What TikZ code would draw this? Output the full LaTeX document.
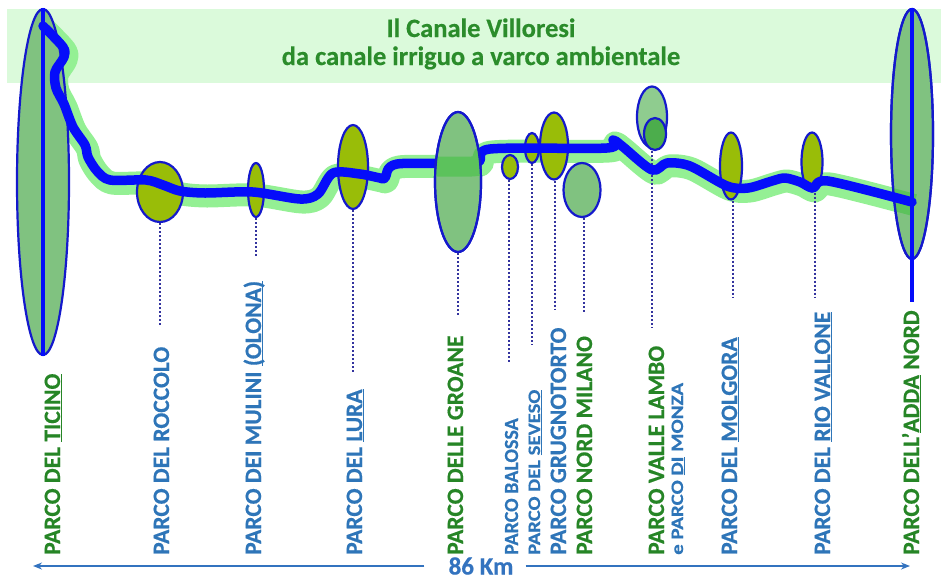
\documentclass[tikz,border=0pt]{standalone}
\usepackage{fontspec}
\setmainfont{Carlito}[BoldFeatures={FakeBold=0.5}]
\usetikzlibrary{shapes.geometric,arrows.meta}
\definecolor{band}{rgb}{0.86,0.98,0.86}
\definecolor{titlegreen}{rgb}{0.17,0.55,0.17}
\definecolor{halo}{rgb}{0.58,0.94,0.58}
\definecolor{halodark}{rgb}{0.36,0.76,0.36}
\definecolor{canal}{rgb}{0.02,0.05,0.98}
\definecolor{rim}{rgb}{0.08,0.1,0.8}
\definecolor{olive}{rgb}{0.6,0.74,0.03}
\definecolor{midgreen}{rgb}{0.5,0.76,0.5}
\definecolor{lightmid}{rgb}{0.56,0.8,0.56}
\definecolor{deepgreen}{rgb}{0.3,0.68,0.3}
\definecolor{lblue}{rgb}{0.18,0.46,0.72}
\definecolor{lgreen}{rgb}{0.15,0.52,0.15}
\definecolor{dotblue}{rgb}{0.2,0.2,0.62}
\definecolor{axisblue}{rgb}{0.2,0.45,0.75}
\newcommand\lnk[1]{\setbox0\hbox{#1}\rlap{\rule[-2.4pt]{\wd0}{1.4pt}}\box0\relax}
\tikzset{
  park/.style={ellipse, draw=rim, line width=2.2pt, inner sep=0pt},
  lab/.style={rotate=90, anchor=base west, inner sep=0pt, font=\bfseries\fontsize{23.5}{23.5}\selectfont},
  labsmall/.style={lab, font=\bfseries\fontsize{20}{20}\selectfont},
  labtiny/.style={lab, font=\bfseries\fontsize{17.5}{17.5}\selectfont},
  conn/.style={dotblue, line width=2pt, dash pattern=on 2pt off 2pt},
  spine/.style={canal, line width=4pt},
  titlefont/.style={font=\bfseries\fontsize{26.5}{26.5}\selectfont, text=titlegreen, anchor=base, inner sep=0pt}
}
\begin{document}
\begin{tikzpicture}[x=1pt,y=-1pt]
\useasboundingbox (0,0) rectangle (941,579);
% title band
\fill[band] (7,9) rectangle (941,83);
\node[titlefont] (t1) at (481,37) {Il Canale Villoresi};
\node[titlefont] (t2) at (481,65) {da canale irriguo a varco ambientale};
% canal path
\path[save path=\canal] plot[smooth, tension=0.5] coordinates {(43,26) (63,47) (64,57) (55,72) (56,88) (64,104) (73,127) (85,145) (88,157) (97,171) (110,180) (146,180) (163,185) (180,191) (205,193) (253,192) (300,199) (318,194) (333,173) (360,174) (380,178) (385,178) (397,164) (475,163) (490,149) (607,148) (613,140) (622,146) (652,170) (667,163) (690,166) (727,186) (748,188) (772,181) (785,178) (800,182) (813,188) (828,181) (912,202)};
\draw[use path=\canal, halo, line width=23pt, line join=round, line cap=round, transform canvas={shift={(2,3)}}];
% parks
\node[park, fill=midgreen, minimum width=52pt, minimum height=346pt] (tic) at (43,182) {};
\node[park, fill=olive, minimum width=46pt, minimum height=60pt] (roc) at (160,192) {};
\node[park, fill=olive, minimum width=16pt, minimum height=54pt] (mul) at (256,190) {};
\node[park, fill=olive, minimum width=30pt, minimum height=84pt] (lur) at (353,167) {};
\node[park, fill=olive, minimum width=16pt, minimum height=24pt] (bal) at (510,167) {};
\node[park, fill=olive, minimum width=14pt, minimum height=30pt] (sev) at (532,148) {};
\node[park, fill=olive, minimum width=28pt, minimum height=67pt] (gru) at (554,146) {};
\node[park, fill=midgreen, minimum width=37pt, minimum height=54pt] (nmi) at (582,190) {};
\node[park, fill=lightmid, minimum width=30pt, minimum height=61pt] (vl) at (652,117) {};
\node[park, fill=deepgreen, minimum width=22pt, minimum height=32pt] (vlb) at (655,134) {};
\node[park, fill=olive, minimum width=22pt, minimum height=67pt] (mol) at (731,166) {};
\node[park, fill=olive, minimum width=21pt, minimum height=59pt] (rio) at (812,162) {};
\node[park, fill=midgreen, minimum width=42pt, minimum height=250pt] (add) at (912,134) {};
\begin{scope}
\clip (912,134) ellipse [x radius=20pt, y radius=124pt];
\draw[use path=\canal, halodark, line width=22pt, line join=round, transform canvas={shift={(2,3)}}];
\end{scope}
\draw[rim, line width=2.2pt] (add.center) ellipse [x radius=21pt, y radius=125pt];
% dotted connectors
\coordinate (droc) at (160,325);
\coordinate (dmul) at (256,258);
\coordinate (dlur) at (353,372);
\coordinate (dgro) at (458,315);
\coordinate (dbal) at (509,363);
\coordinate (dsev) at (532,345);
\coordinate (dgru) at (555,310);
\coordinate (dnmi) at (584,313);
\coordinate (dvl) at (652,328);
\coordinate (dmol) at (733,297);
\coordinate (drio) at (815,297);
\coordinate (dadd) at (912,302);
\draw[conn] (roc.south -| droc) -- (droc);
\draw[conn] (mul.south -| dmul) -- (dmul);
\draw[conn] (lur.south -| dlur) -- (dlur);
\draw[conn] (bal.south -| dbal) -- (dbal);
\draw[conn] (sev.south -| dsev) -- (dsev);
\draw[conn] (gru.south -| dgru) -- (dgru);
\draw[conn] (nmi.south -| dnmi) -- (dnmi);
\draw[conn] (vlb.south -| dvl) -- (dvl);
\draw[conn] (mol.south -| dmol) -- (dmol);
\draw[conn] (rio.south -| drio) -- (drio);
% canal
\draw[use path=\canal, canal, line width=9.5pt, line join=round, line cap=round];
% spines
\draw[spine] (tic.north) -- (tic.south);
\draw[spine] (add.north) -- (dadd);
% groane over the canal
\node[park, fill=midgreen, minimum width=46pt, minimum height=140pt] (gro) at (458,182) {};
\begin{scope}
\clip (458,182) ellipse [x radius=22pt, y radius=69pt];
\draw[use path=\canal, halodark, line width=20pt, line join=round, transform canvas={shift={(2,3)}}];
\end{scope}
\draw[rim, line width=2.2pt] (gro.center) ellipse [x radius=23pt, y radius=70pt];
\draw[conn] (gro.south) -- (dgro);
% labels
\node[lab, text=lgreen] (ltic) at (60,555) {PARCO DEL \lnk{TICINO}};
\node[lab, text=lblue] (lroc) at (169,555) {PARCO DEL ROCCOLO};
\node[lab, text=lblue] (lmul) at (261,555) {PARCO DEI MULINI \lnk{(OLONA)}};
\node[lab, text=lblue] (llur) at (362,555) {PARCO DEL \lnk{LURA}};
\node[lab, text=lgreen] (lgro) at (463,555) {PARCO DELLE GROANE};
\node[labsmall, text=lblue] (lbal) at (518,555) {PARCO BALOSSA};
\node[labtiny, text=lblue] (lsev) at (540,555) {\scalebox{1.18}[1]{PARCO DEL \lnk{SEVESO}}};
\node[lab, text=lblue] (lgru) at (566,555) {PARCO GRUGNOTORTO};
\node[lab, text=lgreen] (lnmi) at (592,555) {PARCO NORD MILANO};
\node[lab, text=lgreen] (lvl) at (664,555) {PARCO VALLE LAMBO};
\node[labtiny, text=lblue] (lmon) at (683,555) {\scalebox{1.2}[1]{e PARCO \lnk{DI} MONZA}};
\node[lab, text=lblue] (lmol) at (737,555) {PARCO DEL \lnk{MOLGORA}};
\node[lab, text=lblue] (lrio) at (830,555) {PARCO DEL \lnk{RIO VALLONE}};
\node[lab, text=lgreen] (ladd) at (919,555) {PARCO DELL’\lnk{ADDA} NORD};
% distance axis
\node[font=\bfseries\fontsize{25}{25}\selectfont, text=axisblue, inner sep=0pt] (km) at (481,566) {86 Km};
\coordinate (aL) at (33,566);
\coordinate (aR) at (910,566);
\draw[axisblue, line width=2pt, -{Stealth[length=9pt,width=7pt]}, shorten <=24pt] (km.west |- aL) -- (aL);
\draw[axisblue, line width=2pt, -{Stealth[length=9pt,width=7pt]}, shorten <=12pt] (km.east |- aR) -- (aR);
\end{tikzpicture}
\end{document}
